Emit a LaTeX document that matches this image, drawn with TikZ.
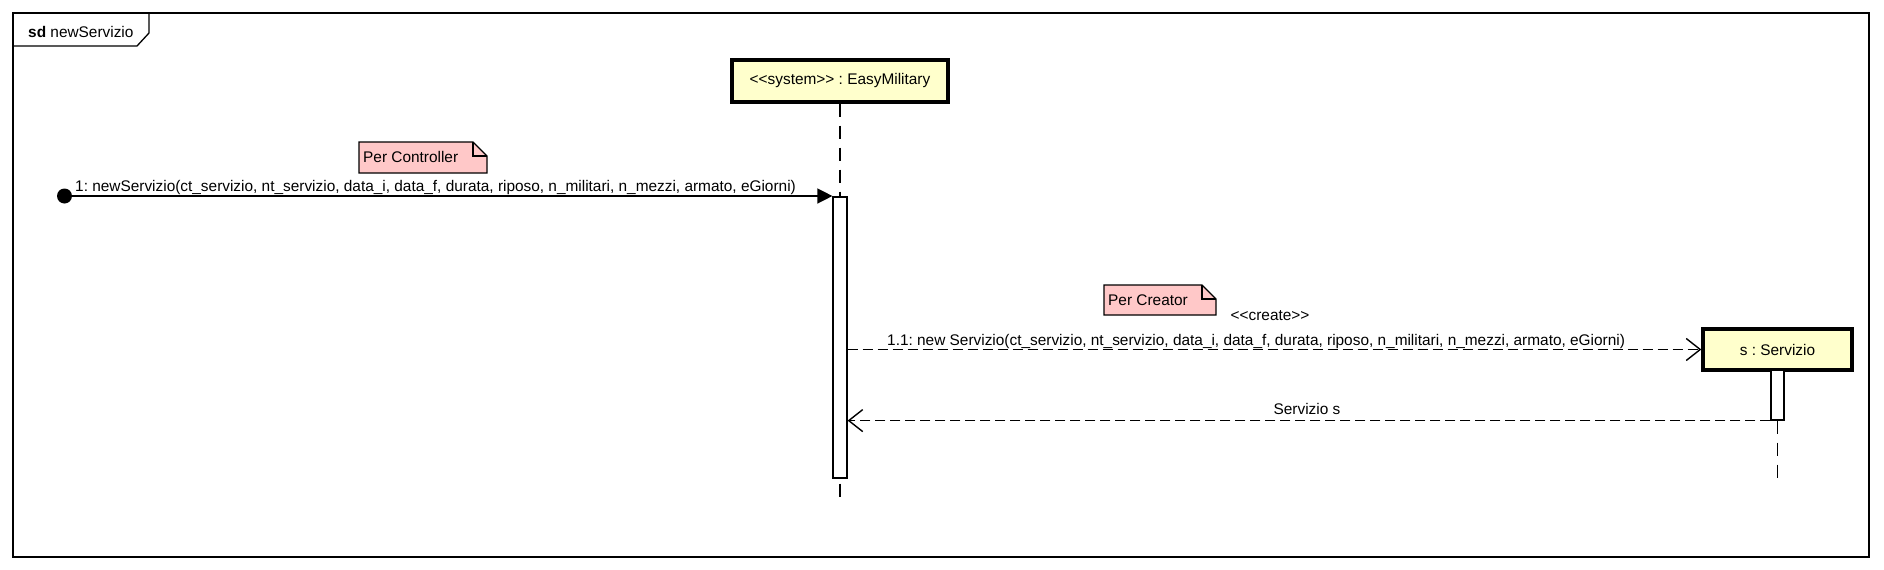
\documentclass[tikz,border=0pt]{standalone}
\usepackage{fontspec}
\setmainfont{Liberation Sans}
\usetikzlibrary{arrows.meta,calc}
\definecolor{boxfill}{HTML}{FFFFCC}
\definecolor{notefill}{HTML}{FFC8C8}
\tikzset{
  every node/.style={font=\fontsize{15.4}{18}\selectfont\frenchspacing, inner sep=0pt},
  frameline/.style={line width=1.3pt, draw=black},
  objbox/.style={draw=black, line width=3.3pt, fill=boxfill, rectangle},
  actbar/.style={draw=black, line width=1.2pt, fill=white, rectangle},
  lifeline/.style={line width=1.5pt, dash pattern=on 13pt off 9pt},
  msgline/.style={line width=1.4pt},
  dashmsg/.style={line width=1.4pt, dash pattern=on 10pt off 5pt},
  synctip/.style={-{Triangle[length=15pt,width=15pt]}},
  opentip/.style={-{Straight Barb[length=14pt,width=22pt,line width=1.4pt]}},
  notebox/.style={draw=black, line width=1.2pt, fill=notefill},
  lbl/.style={anchor=base west},
}
\begin{document}
\begin{tikzpicture}[x=1pt,y=-1pt]
\useasboundingbox (0,0) rectangle (1884,570);
\fill[white] (0,0) rectangle (1884,570);
% frame
\draw[frameline] (13,13) rectangle (1869,557);
\draw[frameline] (13,46) -- (137,46) -- (149,33) -- (149,13);
\node[lbl] (title) at (28,37) {\textbf{sd} newServizio};

% objects
\node[objbox, minimum width=216pt, minimum height=42pt] (sys) at (840,81) {{<}{<}system{>}{>} : EasyMilitary};
\node[objbox, minimum width=149pt, minimum height=41pt] (srv) at (1777.5,349.5) {s : Servizio};

% activation bars
\node[actbar, minimum width=14pt, minimum height=281pt] (act1) at (840,337.5) {};
\node[actbar, minimum width=13pt, minimum height=50pt] (act2) at (1777.5,395) {};

\coordinate (end1) at (840,498);
\coordinate (end2) at (1777.5,478);

% lifelines
\draw[lifeline] (sys.south) -- (act1.north);
\draw[lifeline] (act1.south) ++(0,5) -- (end1);
\draw[lifeline] (act2.south) -- (end2);

% start dot
\fill (64.5,196) circle (7.5pt);
\node[circle, minimum size=15pt] (start) at (64.5,196) {};

% message 1
\draw[msgline, synctip] (start.center) -- (start.center -| act1.west);
\node[lbl] (m1) at (75,191.5) {1: newServizio(ct\_servizio, nt\_servizio, data\_i, data\_f, durata, riposo, n\_militari, n\_mezzi, armato, eGiorni)};

% note Per Controller
\draw[notebox] (359,142) -- (473,142) -- (487,156) -- (487,173) -- (359,173) -- cycle;
\draw[line width=1.2pt] (473,142) -- (473,156) -- (487,156);
\node[lbl] (n1) at (363,162.5) {Per Controller};

% note Per Creator
\draw[notebox] (1104,285) -- (1202,285) -- (1216,299) -- (1216,315) -- (1104,315) -- cycle;
\draw[line width=1.2pt] (1202,285) -- (1202,299) -- (1216,299);
\node[lbl] (n2) at (1108,305) {Per Creator};

% message 1.1 (create)
\node[anchor=base] (cr) at (1270,320) {{<}{<}create{>}{>}};
\draw[dashmsg, opentip] (act1.east |- srv.west) -- (srv.west);
\node[lbl] (m11) at (887,345) {1.1: new Servizio(ct\_servizio, nt\_servizio, data\_i, data\_f, durata, riposo, n\_militari, n\_mezzi, armato, eGiorni)};

% return
\draw[dashmsg, opentip] (act2.south west) -- (act2.south west -| act1.east);
\node[anchor=base] (ret) at (1307,414) {Servizio s};
\end{tikzpicture}
\end{document}
